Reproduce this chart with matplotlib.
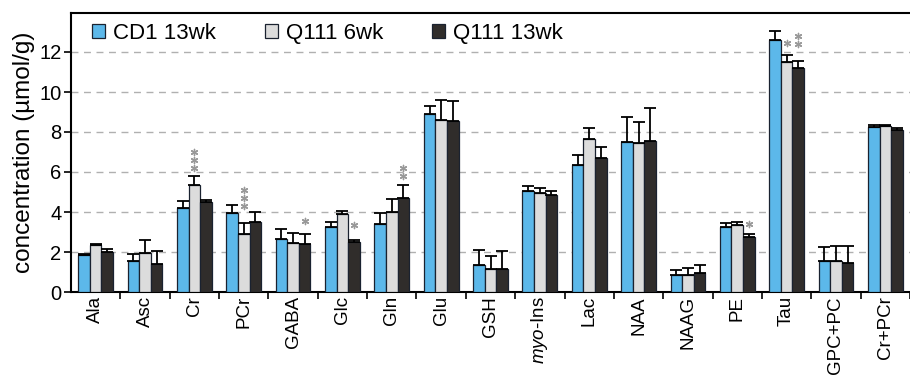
import matplotlib
matplotlib.use("Agg")
import matplotlib.pyplot as plt
import numpy as np
from matplotlib.patches import Patch

plt.rcParams['font.family'] = ['Liberation Sans', 'DejaVu Sans']
plt.rcParams['mathtext.fontset'] = 'custom'
plt.rcParams['mathtext.rm'] = 'Liberation Sans'
plt.rcParams['mathtext.it'] = 'Liberation Sans:italic'

# metabolites
labels = ['Ala', 'Asc', 'Cr', 'PCr', 'GABA', 'Glc', 'Gln', 'Glu', 'GSH',
          r'$\mathit{myo}$-Ins', 'Lac', 'NAA', 'NAAG', 'PE', 'Tau', 'GPC+PC', 'Cr+PCr']
series = ['CD1 13wk', 'Q111 6wk', 'Q111 13wk']

# mean concentrations (umol/g)
cd1_13 = [1.85, 1.55, 4.2, 3.95, 2.65, 3.25, 3.4, 8.9, 1.35, 5.05, 6.35, 7.5, 0.85, 3.25, 12.6, 1.55, 8.25]
q111_6 = [2.35, 1.95, 5.35, 2.9, 2.45, 3.9, 4.0, 8.6, 1.15, 4.95, 7.65, 7.45, 0.85, 3.35, 11.5, 1.55, 8.3]
q111_13 = [2.0, 1.4, 4.5, 3.5, 2.4, 2.5, 4.7, 8.55, 1.15, 4.85, 6.7, 7.55, 0.95, 2.75, 11.2, 1.45, 8.1]

# upward error (SD)
cd1_13_err = [0.05, 0.35, 0.35, 0.4, 0.5, 0.25, 0.55, 0.4, 0.75, 0.25, 0.5, 1.25, 0.25, 0.2, 0.45, 0.7, 0.1]
q111_6_err = [0.05, 0.65, 0.45, 0.55, 0.5, 0.15, 0.65, 1.0, 0.65, 0.25, 0.55, 1.05, 0.35, 0.15, 0.35, 0.75, 0.05]
q111_13_err = [0.15, 0.65, 0.1, 0.5, 0.5, 0.1, 0.65, 1.0, 0.9, 0.2, 0.55, 1.65, 0.4, 0.15, 0.35, 0.85, 0.1]

# significance marks: (metabolite index, series index, number of stars, height of lowest star)
sig_marks = [(2, 1, 3, 6.2), (3, 1, 3, 4.3), (4, 2, 1, 3.55), (5, 2, 1, 3.35),
             (6, 2, 2, 5.8), (13, 2, 1, 3.4), (14, 1, 1, 12.45), (14, 2, 2, 12.4)]

colors = ['#5cb8ea', '#dcdcdc', '#302d2b']
edge = '#1a2230'

fig = plt.figure(figsize=(9.1, 3.77), dpi=100)
ax = fig.add_axes([71 / 910, 85 / 377, 839 / 910, 279 / 377])

x = np.arange(len(labels))
w = 0.235
data = [cd1_13, q111_6, q111_13]
errs = [cd1_13_err, q111_6_err, q111_13_err]
for i in range(3):
    pos = x + (i - 1) * w
    ax.bar(pos, data[i], w, color=colors[i], edgecolor=edge, linewidth=0.9, zorder=3)
    ax.errorbar(pos, data[i], yerr=[np.zeros(len(labels)), errs[i]], fmt='none',
                ecolor='black', elinewidth=1.3, capsize=4, capthick=1.3, zorder=4)

for ci, si, n, y0 in sig_marks:
    xs = [x[ci] + (si - 1) * w] * n
    ys = [y0 + k * 0.4 for k in range(n)]
    ax.scatter(xs, ys, marker=(6, 2, 0), s=20, color='#999999', linewidths=1.0, zorder=5)

ax.set_xlim(-0.5, 16.42)
ax.set_ylim(0, 13.95)
ax.set_yticks(np.arange(0, 13, 2))
ax.tick_params(axis='y', labelsize=14.5, length=5, width=1.2, pad=2)
ax.set_xticks(x)
ax.set_xticklabels(labels, rotation=90, fontsize=13.5)
ax.tick_params(axis='x', which='major', length=0, pad=3)
ax.set_xticks(np.arange(len(labels)) + 0.5, minor=True)
ax.tick_params(axis='x', which='minor', length=5, width=1.2)
ax.set_ylabel('concentration (µmol/g)', fontsize=17.5, labelpad=3)

ax.yaxis.grid(True, linestyle=(0, (5, 4)), color='#b0b0b0', linewidth=1.0, zorder=0)
ax.set_axisbelow(True)
ax.spines['right'].set_visible(False)
for s in ['left', 'bottom', 'top']:
    ax.spines[s].set_linewidth(1.5)

handles = [Patch(facecolor=colors[i], edgecolor=edge, linewidth=0.9) for i in range(3)]
ax.legend(handles, series, loc='upper left', ncol=3, frameon=False, fontsize=16,
          handlelength=0.6, handleheight=0.6, handletextpad=0.35, columnspacing=2.2,
          borderpad=0, borderaxespad=0, bbox_to_anchor=(0.025, 0.965))

fig.savefig('out.png', dpi=100)
